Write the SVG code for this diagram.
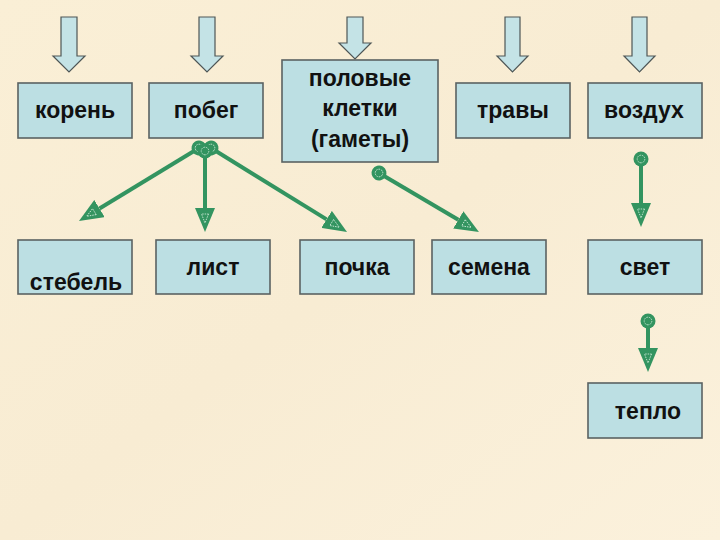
<svg xmlns="http://www.w3.org/2000/svg" width="720" height="540" viewBox="0 0 720 540">
<style>
.box{fill:#BCDFE3;stroke:#5A6262;stroke-width:1.6}
.blk{fill:#C4E3E6;stroke:#4E5656;stroke-width:1.2;stroke-linejoin:miter}
.lbl{font-family:"Liberation Sans",Arial,sans-serif;font-weight:bold;font-size:23px;fill:#111;text-anchor:middle}
.con{fill:none;stroke:#339460;stroke-width:4}
</style>
<defs>
<linearGradient id="bg" x1="0" y1="0" x2="1" y2="1">
<stop offset="0" stop-color="#FAEFD6"/>
<stop offset="0.5" stop-color="#F8ECD3"/>
<stop offset="1" stop-color="#FBF1DC"/>
</linearGradient>
<marker id="head" viewBox="0 0 24 20" refX="0" refY="10" markerWidth="24" markerHeight="20" markerUnits="userSpaceOnUse" orient="auto">
<path d="M0,0 L24,10 L0,20 Z" fill="#339460"/>
<path d="M6,6.5 L15,10 L6,13.5 Z" fill="none" stroke="#D8F0E0" stroke-width="0.8" stroke-dasharray="1.5 1"/>
</marker>
<marker id="dot" viewBox="0 0 16 16" refX="8" refY="8" markerWidth="16" markerHeight="16" markerUnits="userSpaceOnUse" orient="auto">
<circle cx="8" cy="8" r="7.5" fill="#339460"/>
<circle cx="8" cy="8" r="3.8" fill="none" stroke="#D8F0E0" stroke-width="0.8" stroke-dasharray="1.5 1"/>
</marker>
</defs>
<rect width="720" height="540" fill="url(#bg)"/>

<g id="inputs">
<path class="blk" d="M61,17 H77 V56 H85 L69,72 L53,56 H61 Z"/>
<path class="blk" d="M199,17 H215 V56 H223 L207,72 L191,56 H199 Z"/>
<path class="blk" d="M347,17 H363 V43 H371 L355,59 L339,43 H347 Z"/>
<path class="blk" d="M505,17 H520 V56 H528 L512.5,72 L497,56 H505 Z"/>
<path class="blk" d="M632,17 H647 V56 H655 L639.5,72 L624,56 H632 Z"/>
</g>

<g id="koren"><rect class="box" x="18" y="83" width="114" height="55"/><text class="lbl" x="75" y="118">корень</text></g>
<g id="pobeg"><rect class="box" x="149" y="83" width="114" height="55"/><text class="lbl" x="206" y="118">побег</text></g>
<g id="gamety"><rect class="box" x="282" y="60" width="156" height="102"/>
<text class="lbl" x="360" y="86">половые</text>
<text class="lbl" x="360" y="116">клетки</text>
<text class="lbl" x="360" y="147">(гаметы)</text></g>
<g id="travy"><rect class="box" x="456" y="83" width="114" height="55"/><text class="lbl" x="513" y="118">травы</text></g>
<g id="vozduh"><rect class="box" x="588" y="83" width="114" height="55"/><text class="lbl" x="644" y="118">воздух</text></g>

<g id="stebel"><rect class="box" x="18" y="240" width="114" height="54"/><text class="lbl" x="76" y="290">стебель</text></g>
<g id="list"><rect class="box" x="156" y="240" width="114" height="54"/><text class="lbl" x="213" y="275">лист</text></g>
<g id="pochka"><rect class="box" x="300" y="240" width="114" height="54"/><text class="lbl" x="357" y="275">почка</text></g>
<g id="semena"><rect class="box" x="432" y="240" width="114" height="54"/><text class="lbl" x="489" y="275">семена</text></g>
<g id="svet"><rect class="box" x="588" y="240" width="114" height="54"/><text class="lbl" x="645" y="275">свет</text></g>
<g id="teplo"><rect class="box" x="588" y="383" width="114" height="55"/><text class="lbl" x="648" y="419">тепло</text></g>

<g id="connectors">
<line class="con" x1="199" y1="148" x2="99.5" y2="208.5" marker-start="url(#dot)" marker-end="url(#head)"/>
<line class="con" x1="211" y1="148" x2="326.6" y2="219.4" marker-start="url(#dot)" marker-end="url(#head)"/>
<line class="con" x1="205" y1="151" x2="205" y2="208" marker-start="url(#dot)" marker-end="url(#head)"/>
<line class="con" x1="379" y1="173" x2="458.3" y2="219.8" marker-start="url(#dot)" marker-end="url(#head)"/>
<line class="con" x1="641" y1="159" x2="641" y2="203" marker-start="url(#dot)" marker-end="url(#head)"/>
<line class="con" x1="648" y1="321" x2="648" y2="348" marker-start="url(#dot)" marker-end="url(#head)"/>
</g>
</svg>
